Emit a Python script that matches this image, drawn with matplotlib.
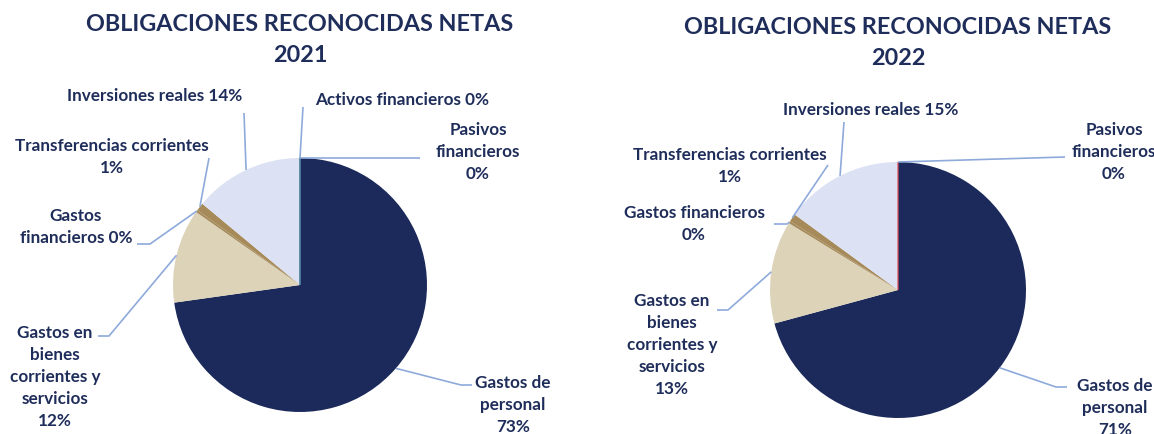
import matplotlib
matplotlib.use("Agg")
import matplotlib.pyplot as plt
import numpy as np

W, H = 1154, 434

# ---- data ----
categories_2021 = ["Gastos de personal", "Gastos en bienes corrientes y servicios",
                   "Gastos financieros", "Transferencias corrientes",
                   "Inversiones reales", "Activos financieros", "Pasivos financieros"]
values_2021 = [73.0, 12.0, 0.3, 1.0, 14.0, 0.0, 0.0]

categories_2022 = ["Gastos de personal", "Gastos en bienes corrientes y servicios",
                   "Gastos financieros", "Transferencias corrientes",
                   "Inversiones reales", "Pasivos financieros"]
values_2022 = [71.0, 13.0, 0.3, 1.0, 15.0, 0.0]

titles = ["OBLIGACIONES RECONOCIDAS NETAS\n2021", "OBLIGACIONES RECONOCIDAS NETAS\n2022"]

# label texts (name part + separator before the percentage, as wrapped in the reference)
label_names_2021 = ["Gastos de\npersonal\n", "Gastos en\nbienes\ncorrientes y\nservicios\n",
                    "Gastos\nfinancieros ", "Transferencias corrientes\n",
                    "Inversiones reales ", "Activos financieros ", "Pasivos\nfinancieros\n"]
label_names_2022 = ["Gastos de\npersonal\n", "Gastos en\nbienes\ncorrientes y\nservicios\n",
                    "Gastos financieros\n", "Transferencias corrientes\n",
                    "Inversiones reales ", "Pasivos\nfinancieros\n"]

# ---- styling ----
colors_2021 = ["#1b2a5a", "#dcd3b8", "#a68a5a", "#a68a5a", "#dce1f3", "#70ad47", "#4472c4"]
colors_2022 = ["#1b2a5a", "#dcd3b8", "#a68a5a", "#a68a5a", "#dce1f3", "#e0505a"]
text_color = "#1f2d5a"
leader_color = "#8eaadb"
FONT = "Lato"

fig = plt.figure(figsize=(W / 100, H / 100), dpi=100)
ax = fig.add_axes([0, 0, 1, 1])

def Y(y):
    return H - y

# pie layout (image pixel coords): center, radius, label centers, leader elbows
layouts = [
    dict(center=(300, 285), r=127,
         title=(300, 40),
         labels=[(513, 405), (55, 377), (76, 227), (112, 157),
                 (155, 96), (402, 100), (478, 152)],
         leaders=[[(461, 385), (472, 385)], [(109, 336), (98, 336)], [(150, 244), (137, 244)],
                  [(209, 158)], [(244, 113)], [(303, 107)], [(420, 158)]]),
    dict(center=(898, 290), r=128,
         title=(898, 43),
         labels=[(1115, 408), (672, 345), (694, 224), (730, 166),
                 (871, 110), (1114, 152)],
         leaders=[[(1056, 387), (1067, 387)], [(728, 310), (717, 310)],
                  [(787, 224), (774, 224)], [(828, 165)], [(844, 122)], [(1065, 157)]]),
]

datasets = [(values_2021, label_names_2021, colors_2021),
            (values_2022, label_names_2022, colors_2022)]

for (vals, names, cols), lay, title in zip(datasets, layouts, titles):
    cx, cy = lay["center"]
    r = lay["r"]
    wedges, _ = ax.pie(vals, colors=cols, startangle=90, counterclock=False,
                       center=(cx, Y(cy)), radius=r, normalize=True,
                       wedgeprops=dict(linewidth=0))
    for w, v, c in zip(wedges, vals, cols):
        if v == 0:
            w.set_edgecolor(c)
            w.set_linewidth(0.9)
    total = sum(vals)
    for w, v, name, (lx, ly), pts in zip(wedges, vals, names, lay["labels"], lay["leaders"]):
        mid = np.deg2rad((w.theta1 + w.theta2) / 2)
        sx = cx + r * np.cos(mid)
        sy = Y(cy) + r * np.sin(mid)
        xs = [sx] + [p[0] for p in pts]
        ys = [sy] + [Y(p[1]) for p in pts]
        ax.plot(xs, ys, color=leader_color, lw=1.2, solid_capstyle="butt", zorder=3)
        txt = name + f"{round(v / total * 100)}%"
        ax.text(lx, Y(ly), txt, ha="center", va="center", fontsize=12.3,
                fontweight="bold", family=FONT, color=text_color, linespacing=1.45,
                zorder=4)
    tx, ty = lay["title"]
    ax.text(tx, Y(ty), title, ha="center", va="center", fontsize=16.8,
            fontweight="bold", family=FONT, color=text_color, linespacing=1.6)

ax.set_xlim(0, W)
ax.set_ylim(0, H)
ax.set_aspect("equal")
ax.axis("off")

fig.savefig("out.png", dpi=100, facecolor="white")
